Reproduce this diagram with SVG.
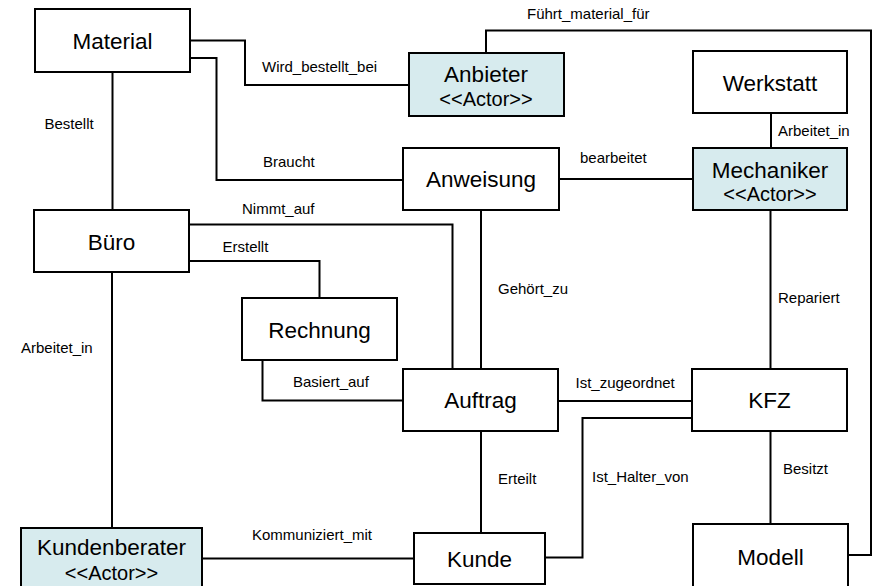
<svg xmlns="http://www.w3.org/2000/svg" width="877" height="586" viewBox="0 0 877 586">
  <style>
    .box { fill: #ffffff; stroke: #000000; stroke-width: 2; }
    .actor { fill: #d7ebee; stroke: #000000; stroke-width: 2; }
    .name { font-family: "Liberation Sans", Arial, sans-serif; font-size: 22.5px; fill: #000000; text-anchor: middle; }
    .stereo { font-family: "Liberation Sans", Arial, sans-serif; font-size: 20px; fill: #000000; text-anchor: middle; }
    .lbl { font-family: "Liberation Sans", Arial, sans-serif; font-size: 15px; fill: #000000; }
    .conn { fill: none; stroke: #000000; stroke-width: 2; }
  </style>
  <rect width="877" height="586" fill="#ffffff"/>

  <!-- associations -->
  <g id="connectors">
    <polyline class="conn" points="190,40.5 245,40.5 245,85 409,85"/>
    <polyline class="conn" points="190,58 216.5,58 216.5,180 403,180"/>
    <polyline class="conn" points="112.5,72 112.5,210"/>
    <polyline class="conn" points="486,53 486,30.5 871,30.5 871,555 848,555"/>
    <polyline class="conn" points="771,113 771,148"/>
    <polyline class="conn" points="559,179 693,179"/>
    <polyline class="conn" points="481,210 481,369"/>
    <polyline class="conn" points="189,224.5 452.5,224.5 452.5,369"/>
    <polyline class="conn" points="189,261 319.5,261 319.5,298"/>
    <polyline class="conn" points="262.5,360 262.5,400.5 403,400.5"/>
    <polyline class="conn" points="112,272 112,528"/>
    <polyline class="conn" points="770.5,210 770.5,369"/>
    <polyline class="conn" points="558,401 692,401"/>
    <polyline class="conn" points="692,418 582.5,418 582.5,557.5 545,557.5"/>
    <polyline class="conn" points="770.5,431 770.5,524"/>
    <polyline class="conn" points="481,431 481,533"/>
    <polyline class="conn" points="202,558.5 414,558.5"/>

    <text class="lbl" x="527" y="19">Führt_material_für</text>
    <text class="lbl" x="262" y="72">Wird_bestellt_bei</text>
    <text class="lbl" x="44.5" y="129">Bestellt</text>
    <text class="lbl" x="263" y="167">Braucht</text>
    <text class="lbl" x="580" y="163">bearbeitet</text>
    <text class="lbl" x="778" y="136">Arbeitet_in</text>
    <text class="lbl" x="242" y="214">Nimmt_auf</text>
    <text class="lbl" x="222.5" y="252">Erstellt</text>
    <text class="lbl" x="21" y="353">Arbeitet_in</text>
    <text class="lbl" x="498" y="294">Gehört_zu</text>
    <text class="lbl" x="293" y="387">Basiert_auf</text>
    <text class="lbl" x="575.5" y="388">Ist_zugeordnet</text>
    <text class="lbl" x="592" y="482">Ist_Halter_von</text>
    <text class="lbl" x="783" y="474">Besitzt</text>
    <text class="lbl" x="498" y="484">Erteilt</text>
    <text class="lbl" x="778" y="303">Repariert</text>
    <text class="lbl" x="252" y="540">Kommuniziert_mit</text>
  </g>

  <!-- classes -->
  <g id="material">
    <rect class="box" x="35" y="9" width="155" height="63"/>
    <text class="name" x="112.5" y="49">Material</text>
  </g>
  <g id="anbieter">
    <rect class="actor" x="409" y="53" width="155" height="63"/>
    <text class="name" x="486" y="82">Anbieter</text>
    <text class="stereo" x="486" y="106">&lt;&lt;Actor&gt;&gt;</text>
  </g>
  <g id="werkstatt">
    <rect class="box" x="693" y="51" width="154" height="62"/>
    <text class="name" x="770" y="91">Werkstatt</text>
  </g>
  <g id="mechaniker">
    <rect class="actor" x="693" y="148" width="154" height="62"/>
    <text class="name" x="770" y="177.5">Mechaniker</text>
    <text class="stereo" x="770" y="201">&lt;&lt;Actor&gt;&gt;</text>
  </g>
  <g id="anweisung">
    <rect class="box" x="403" y="148" width="156" height="62"/>
    <text class="name" x="481" y="187">Anweisung</text>
  </g>
  <g id="buero">
    <rect class="box" x="34" y="210" width="155" height="62"/>
    <text class="name" x="111.5" y="250">Büro</text>
  </g>
  <g id="rechnung">
    <rect class="box" x="242" y="298" width="155" height="62"/>
    <text class="name" x="319.5" y="338">Rechnung</text>
  </g>
  <g id="auftrag">
    <rect class="box" x="403" y="369" width="155" height="62"/>
    <text class="name" x="480.5" y="408">Auftrag</text>
  </g>
  <g id="kfz">
    <rect class="box" x="692" y="369" width="155" height="62"/>
    <text class="name" x="769.5" y="408">KFZ</text>
  </g>
  <g id="kundenberater">
    <rect class="actor" x="21" y="528" width="181" height="70"/>
    <text class="name" x="111.5" y="555">Kundenberater</text>
    <text class="stereo" x="111.5" y="580">&lt;&lt;Actor&gt;&gt;</text>
  </g>
  <g id="kunde">
    <rect class="box" x="414" y="533" width="131" height="51"/>
    <text class="name" x="479.5" y="567">Kunde</text>
  </g>
  <g id="modell">
    <rect class="box" x="693" y="524" width="155" height="70"/>
    <text class="name" x="770.5" y="565">Modell</text>
  </g>
</svg>
